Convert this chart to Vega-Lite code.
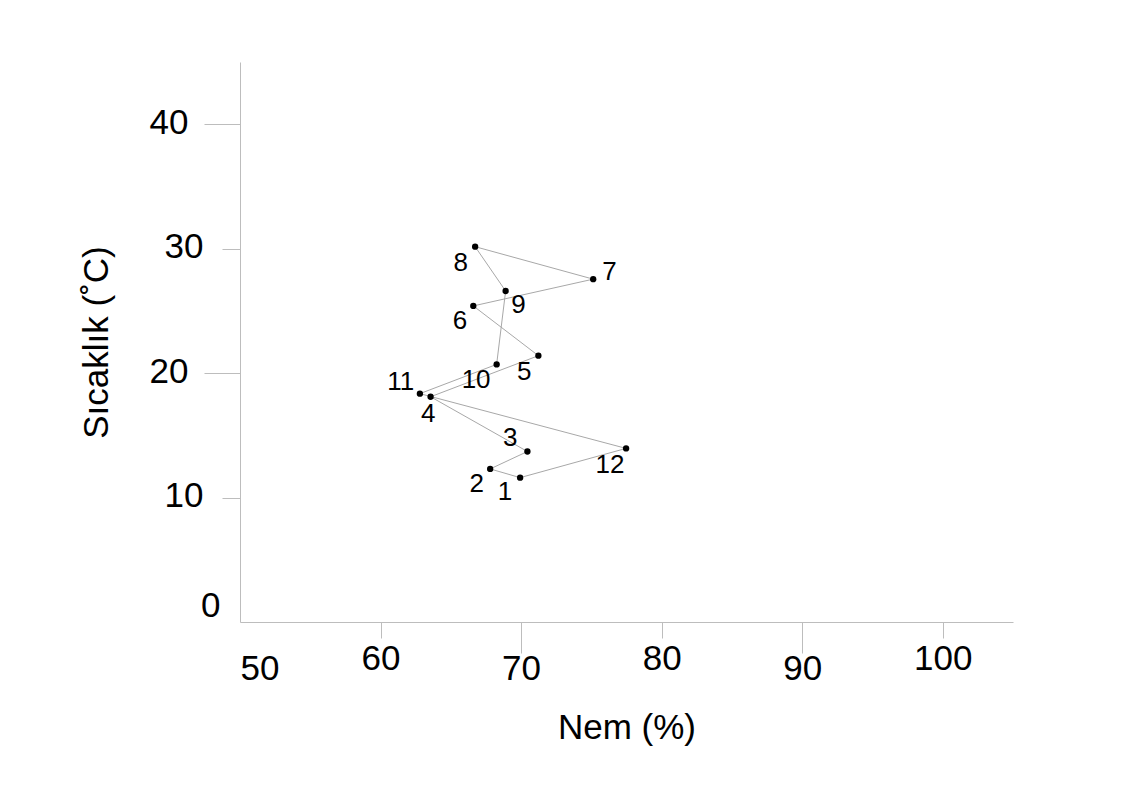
{
  "$schema": "https://vega.github.io/schema/vega-lite/v6.json",
  "width": 773,
  "height": 560,
  "autosize": "none",
  "padding": {"left": 240, "top": 62, "right": 118, "bottom": 180},
  "background": "white",
  "config": {"view": {"stroke": null}, "font": "Liberation Sans"},
  "datasets": {
    "months": [
      {"ay": "1", "nem": 69.93, "sicaklik": 11.6, "etiketNem": 68.86, "etiketSicaklik": 10.42},
      {"ay": "2", "nem": 67.8, "sicaklik": 12.3, "etiketNem": 66.85, "etiketSicaklik": 11.1},
      {"ay": "3", "nem": 70.45, "sicaklik": 13.7, "etiketNem": 69.22, "etiketSicaklik": 14.78},
      {"ay": "4", "nem": 63.56, "sicaklik": 18.1, "etiketNem": 63.4, "etiketSicaklik": 16.7},
      {"ay": "5", "nem": 71.23, "sicaklik": 21.4, "etiketNem": 70.23, "etiketSicaklik": 20.1},
      {"ay": "6", "nem": 66.6, "sicaklik": 25.4, "etiketNem": 65.66, "etiketSicaklik": 24.16},
      {"ay": "7", "nem": 75.13, "sicaklik": 27.55, "etiketNem": 76.29, "etiketSicaklik": 28.16},
      {"ay": "8", "nem": 66.73, "sicaklik": 30.16, "etiketNem": 65.71, "etiketSicaklik": 28.82},
      {"ay": "9", "nem": 68.9, "sicaklik": 26.6, "etiketNem": 69.81, "etiketSicaklik": 25.5},
      {"ay": "10", "nem": 68.26, "sicaklik": 20.7, "etiketNem": 66.8, "etiketSicaklik": 19.42},
      {"ay": "11", "nem": 62.8, "sicaklik": 18.35, "etiketNem": 61.44, "etiketSicaklik": 19.3},
      {"ay": "12", "nem": 77.47, "sicaklik": 13.95, "etiketNem": 76.33, "etiketSicaklik": 12.62}
    ],
    "path": [
      {"adim": 1, "nem": 69.93, "sicaklik": 11.6},
      {"adim": 2, "nem": 67.8, "sicaklik": 12.3},
      {"adim": 3, "nem": 70.45, "sicaklik": 13.7},
      {"adim": 4, "nem": 63.56, "sicaklik": 18.1},
      {"adim": 5, "nem": 71.23, "sicaklik": 21.4},
      {"adim": 6, "nem": 66.6, "sicaklik": 25.4},
      {"adim": 7, "nem": 75.13, "sicaklik": 27.55},
      {"adim": 8, "nem": 66.73, "sicaklik": 30.16},
      {"adim": 9, "nem": 68.9, "sicaklik": 26.6},
      {"adim": 10, "nem": 68.26, "sicaklik": 20.7},
      {"adim": 11, "nem": 62.8, "sicaklik": 18.35},
      {"adim": 12, "nem": 77.47, "sicaklik": 13.95},
      {"adim": 13, "nem": 69.93, "sicaklik": 11.6}
    ]
  },
  "layer": [
    {
      "data": {"name": "path"},
      "mark": {"type": "line", "color": "#a8a8a8", "strokeWidth": 1},
      "encoding": {
        "x": {
          "field": "nem", "type": "quantitative", "title": "Nem (%)",
          "scale": {"domain": [50, 105], "nice": false, "zero": false},
          "axis": {
            "values": [50, 60, 70, 80, 90, 100],
            "grid": false,
            "domainColor": "#bdbdbd",
            "tickColor": "#bdbdbd",
            "tickSize": {"expr": "datum.value == 50 ? 0 : (datum.value % 20 == 0 ? 16 : 31)"},
            "labelPadding": {"expr": "datum.value == 50 ? 29 : (datum.value % 20 == 0 ? 3 : -2)"},
            "labelFontSize": 35,
            "labelColor": "black",
            "labelFont": "Liberation Sans",
            "titleFontSize": 35,
            "titleFontWeight": "normal",
            "titleColor": "black",
            "titleFont": "Liberation Sans",
            "titlePadding": 24
          }
        },
        "y": {
          "field": "sicaklik", "type": "quantitative", "title": "Sıcaklık (˚C)",
          "scale": {"domain": [0, 45], "nice": false, "zero": false},
          "axis": {
            "values": [0, 10, 20, 30, 40],
            "grid": false,
            "domainColor": "#bdbdbd",
            "tickColor": "#bdbdbd",
            "tickSize": {"expr": "datum.value == 0 ? 0 : (datum.value % 20 == 0 ? 36 : 18)"},
            "labelPadding": {"expr": "datum.value == 0 ? 20 : (datum.value % 20 == 0 ? 16 : 19)"},
            "labelOffset": {"expr": "datum.value == 0 ? -17 : -2"},
            "labelFontSize": 35,
            "labelColor": "black",
            "labelFont": "Liberation Sans",
            "titleFontSize": 35,
            "titleFontWeight": "normal",
            "titleColor": "black",
            "titleFont": "Liberation Sans",
            "titlePadding": 35
          }
        },
        "order": {"field": "adim", "type": "quantitative"}
      }
    },
    {
      "data": {"name": "months"},
      "mark": {"type": "point", "filled": true, "color": "black", "size": 40, "opacity": 1},
      "encoding": {
        "x": {"field": "nem", "type": "quantitative", "title": "Nem (%)"},
        "y": {"field": "sicaklik", "type": "quantitative", "title": "Sıcaklık (˚C)"}
      }
    },
    {
      "data": {"name": "months"},
      "mark": {"type": "text", "fontSize": 26, "color": "black", "font": "Liberation Sans", "align": "center", "baseline": "middle"},
      "encoding": {
        "x": {"field": "etiketNem", "type": "quantitative", "title": "Nem (%)"},
        "y": {"field": "etiketSicaklik", "type": "quantitative", "title": "Sıcaklık (˚C)"},
        "text": {"field": "ay", "type": "nominal"}
      }
    }
  ]
}
